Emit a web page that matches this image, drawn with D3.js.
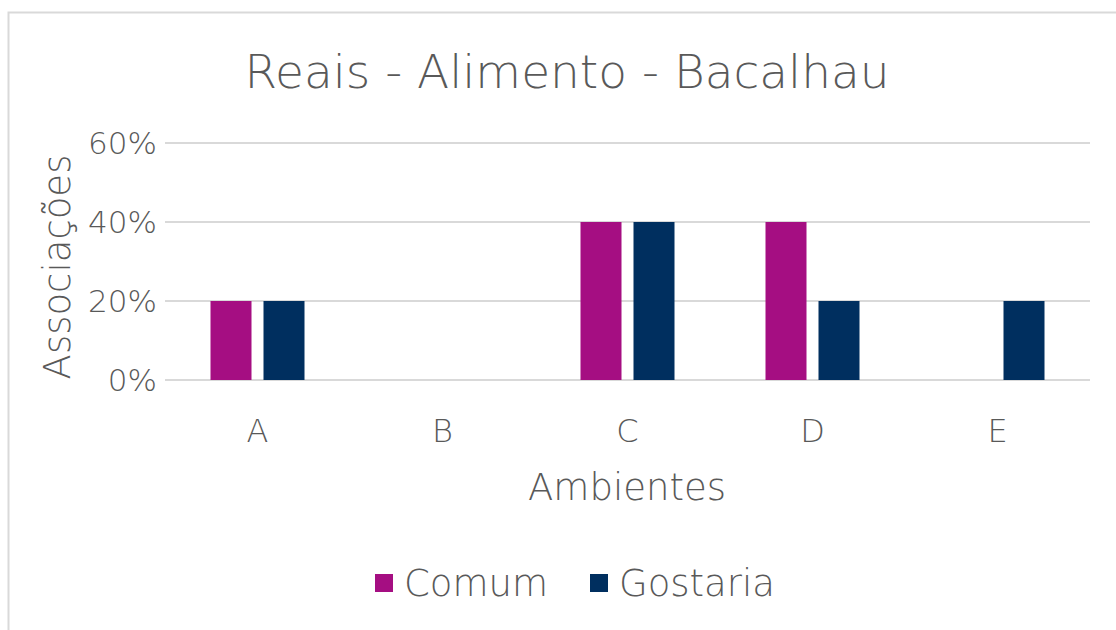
<!DOCTYPE html>
<html>
<head>
<meta charset="utf-8">
<script src="https://cdn.jsdelivr.net/npm/d3@7"></script>
<style>
  body { margin: 0; background: #fff; }
  text { font-family: "DejaVu Sans", sans-serif; font-weight: 200; fill: #595959; }
</style>
</head>
<body>
<svg width="1116" height="630"></svg>
<script>
var categories = ["A", "B", "C", "D", "E"];
var seriesNames = ["Comum", "Gostaria"];
var comum = [0.2, 0, 0.4, 0.4, 0];
var gostaria = [0.2, 0, 0.4, 0.2, 0.2];
var yTicks = [0, 0.2, 0.4, 0.6];
var colors = ["#a50e82", "#002f5f"];

var svg = d3.select("svg"),
    width = +svg.attr("width"),
    height = +svg.attr("height");

// outer frame
svg.append("rect")
   .attr("x", 8.5).attr("y", 12.5)
   .attr("width", 1200).attr("height", 700)
   .attr("fill", "none")
   .attr("stroke", "#d9d9d9")
   .attr("stroke-width", 2);

var margin = {left: 165, right: 1090, top: 143, bottom: 380};

var x = d3.scaleBand().domain(categories).range([margin.left, margin.right]);
var y = d3.scaleLinear().domain([0, 0.6]).range([margin.bottom, margin.top]);

// gridlines
svg.append("g").selectAll("line")
   .data(yTicks).enter().append("line")
   .attr("x1", margin.left).attr("x2", margin.right)
   .attr("y1", function(d){ return y(d); })
   .attr("y2", function(d){ return y(d); })
   .attr("stroke", "#d9d9d9")
   .attr("stroke-width", 2);

var barW = 41, gap = 12;
var data = categories.map(function(c, i){ return {cat: c, vals: [comum[i], gostaria[i]]}; });

var groups = svg.append("g").selectAll("g")
   .data(data).enter().append("g");

groups.selectAll("rect")
   .data(function(d){ return d.vals.map(function(v, j){ return {cat: d.cat, v: v, j: j}; }); })
   .enter().append("rect")
   .attr("x", function(d){
      var c = x(d.cat) + x.bandwidth() / 2;
      return d.j === 0 ? c - gap / 2 - barW : c + gap / 2;
   })
   .attr("y", function(d){ return y(d.v); })
   .attr("width", barW)
   .attr("height", function(d){ return y(0) - y(d.v); })
   .attr("fill", function(d){ return colors[d.j]; });

// y tick labels
svg.append("g").selectAll("text")
   .data(yTicks).enter().append("text")
   .attr("x", 157)
   .attr("y", function(d){ return y(d); })
   .attr("dy", "0.35em")
   .attr("text-anchor", "end")
   .style("font-size", "31px")
   .text(function(d){ return d3.format(".0%")(d); });

// x tick labels
svg.append("g").selectAll("text")
   .data(categories).enter().append("text")
   .attr("x", function(d){ return x(d) + x.bandwidth() / 2; })
   .attr("y", 431)
   .attr("dy", "0.35em")
   .attr("text-anchor", "middle")
   .style("font-size", "32px")
   .text(function(d){ return d; });

// title
svg.append("text")
   .attr("x", 567).attr("y", 72)
   .attr("dy", "0.35em")
   .attr("text-anchor", "middle")
   .style("font-size", "47px")
   .text("Reais - Alimento - Bacalhau");

// axis titles
svg.append("text")
   .attr("transform", "translate(57,267) rotate(-90)")
   .attr("dy", "0.35em")
   .attr("text-anchor", "middle")
   .style("font-size", "37px")
   .text("Associações");

svg.append("text")
   .attr("x", 627).attr("y", 487)
   .attr("dy", "0.35em")
   .attr("text-anchor", "middle")
   .style("font-size", "37px")
   .text("Ambientes");

// legend
var legend = svg.append("g").selectAll("g")
   .data(seriesNames).enter().append("g")
   .attr("transform", function(d, i){ return "translate(" + [375, 590][i] + ",583)"; });

legend.append("rect")
   .attr("x", 0).attr("y", -9)
   .attr("width", 18).attr("height", 18)
   .attr("fill", function(d, i){ return colors[i]; });

legend.append("text")
   .attr("x", 29).attr("y", 0)
   .attr("dy", "0.35em")
   .style("font-size", "37px")
   .text(function(d){ return d; });
</script>
</body>
</html>
